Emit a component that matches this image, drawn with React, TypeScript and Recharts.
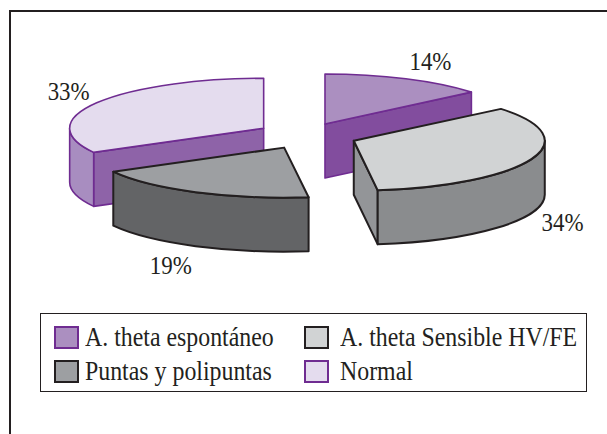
import React from "react";
import { PieChart, Pie, Legend } from "recharts";

// Drawing order: rotated so that each front slice paints over its neighbour.
const categories = ["Normal", "A. theta espontáneo", "A. theta Sensible HV/FE", "Puntas y polipuntas"];
const values = [33, 14, 34, 19];
const legendOrder = ["A. theta espontáneo", "A. theta Sensible HV/FE", "Puntas y polipuntas", "Normal"];

const PURPLE = "#6f2c91";
const INK = "#231f20";
const styles: Record<string, any> = {
  "A. theta espontáneo": { top: "#ab8fc0", cut: "#824d9e", wall: "#824d9e", stroke: PURPLE, k: 0.9, rx: 190, lx: 1.29, ly: 1.4, sw: 1.6 },
  "A. theta Sensible HV/FE": { top: "#d1d3d4", cut: "#939598", wall: "#8a8c8e", stroke: INK, k: 1.04, rx: 191, lx: 1.17, ly: 1.5, sw: 2 },
  "Puntas y polipuntas": { top: "#9d9fa2", cut: "#636466", wall: "#636466", stroke: INK, k: 0.98, rx: 195, lx: 1.3, ly: 1.42, sw: 2 },
  Normal: { top: "#e4dcee", cut: "#8e63a8", wall: "#a88dc0", stroke: PURPLE, k: 1, rx: 194, lx: 1.18, ly: 1.45, sw: 1.6 },
};

const data = categories.map((name, i) => ({ name, value: values[i] }));

const SERIF = "'Liberation Serif', serif";
const OUTER = 192;
const RY = 50;
const DEPTH = 54;
const EX = 49.3;
const EY = 14;
const rad = (d: number) => (d * Math.PI) / 180;
const apex = (cx: number, cy: number, mid: number, k: number) => [
  cx + EX * k * Math.sin(rad(mid)),
  cy - EY * k * Math.cos(rad(mid)),
];

function Slice3D(props: any) {
  const { cx, cy, startAngle, endAngle, index } = props;
  const name = categories[index];
  const st = styles[name];
  const RX = st.rx;
  const s = 90 - startAngle;
  const e = 90 - endAngle;
  const mid = (s + e) / 2;
  const [ax, ay] = apex(cx, cy, mid, st.k);
  const rim = (c: number, dz = 0) => [ax + RX * Math.sin(rad(c)), ay - RY * Math.cos(rad(c)) + dz];
  const common = { stroke: st.stroke, strokeWidth: st.sw, strokeLinejoin: "round" as const };
  const parts: React.ReactNode[] = [];

  const face = (c: number, key: string) => {
    const [x, y] = rim(c);
    parts.push(
      <path key={key} d={`M${ax},${ay} L${x},${y} L${x},${y + DEPTH} L${ax},${ay + DEPTH} Z`} fill={st.cut} {...common} />
    );
  };
  if (Math.sin(rad(s)) < -1e-6) face(s, "start");
  if (Math.sin(rad(e)) > 1e-6) face(e, "end");

  for (const base of [90, 450]) {
    const a0 = Math.max(s, base);
    const a1 = Math.min(e, base + 180);
    if (a1 > a0) {
      const [x0, y0] = rim(a0);
      const [x1, y1] = rim(a1);
      parts.push(
        <path
          key={`wall${base}`}
          d={`M${x0},${y0} A${RX},${RY} 0 0 1 ${x1},${y1} L${x1},${y1 + DEPTH} A${RX},${RY} 0 0 0 ${x0},${y0 + DEPTH} Z`}
          fill={st.wall}
          {...common}
        />
      );
    }
  }

  const [tx0, ty0] = rim(s);
  const [tx1, ty1] = rim(e);
  parts.push(
    <path
      key="top"
      d={`M${ax},${ay} L${tx0},${ty0} A${RX},${RY} 0 ${e - s > 180 ? 1 : 0} 1 ${tx1},${ty1} Z`}
      fill={st.top}
      {...common}
    />
  );
  return <g>{parts}</g>;
}

function SliceLabel(props: any) {
  const { cx, cy, midAngle, index } = props;
  const name = categories[index];
  const st = styles[name];
  const c = 90 - midAngle;
  const [ax, ay] = apex(cx, cy, c, st.k);
  const cos = Math.cos(rad(c));
  const x = ax + OUTER * st.lx * Math.sin(rad(c));
  const y = ay - RY * st.ly * cos + (cos < 0 ? DEPTH : 0);
  return (
    <text
      transform={`translate(${x} ${y}) scale(0.9 1)`}
      textAnchor="middle"
      dominantBaseline="central"
      fontFamily={SERIF}
      fontSize={25.5}
      fill={INK}
    >
      {`${values[index]}%`}
    </text>
  );
}

function LegendBox() {
  const cols = [54, 304];
  const rows = [326, 360];
  const textX = [85, 339.5];
  return (
    <div style={{ position: "relative", width: 547, height: 79, boxSizing: "border-box", border: `1.5px solid ${INK}`, background: "#fff" }}>
      {legendOrder.map((name, i) => {
        const col = i % 2;
        const row = Math.floor(i / 2);
        return (
          <React.Fragment key={name}>
            <div
              style={{
                position: "absolute",
                left: cols[col] - 41,
                top: rows[row] - 314,
                width: 25,
                height: 23,
                boxSizing: "border-box",
                background: styles[name].top,
                border: `2px solid ${styles[name].stroke}`,
              }}
            />
            <div
              style={{
                position: "absolute",
                left: textX[col] - 41,
                top: rows[row] - 314 - 3,
                lineHeight: "28px",
                fontFamily: SERIF,
                fontSize: 26.5,
                color: INK,
                whiteSpace: "nowrap",
                transform: "scaleX(0.9)",
                transformOrigin: "left center",
              }}
            >
              {name}
            </div>
          </React.Fragment>
        );
      })}
    </div>
  );
}

export default function App() {
  return (
    <div style={{ position: "absolute", left: 0, top: 0, width: 607, height: 434, overflow: "hidden", background: "#fff" }}>
      <div style={{ position: "absolute", left: 9, top: 10, width: 800, height: 600, border: `2px solid ${INK}` }} />
      <PieChart width={607} height={434} margin={{ top: 0, right: 0, bottom: 0, left: 0 }} style={{ position: "absolute", left: 0, top: 0 }}>
        <Pie
          data={data}
          dataKey="value"
          nameKey="name"
          cx={306.1}
          cy={135.4}
          innerRadius={0}
          outerRadius={OUTER}
          startAngle={-151.2}
          endAngle={-511.2}
          paddingAngle={0}
          isAnimationActive={false}
          shape={Slice3D}
          activeShape={Slice3D}
          inactiveShape={Slice3D}
          label={SliceLabel}
          labelLine={false}
        />
        <Legend content={<LegendBox />} wrapperStyle={{ position: "absolute", left: 40, top: 313, bottom: "auto", width: 547, height: 79 }} />
      </PieChart>
    </div>
  );
}
